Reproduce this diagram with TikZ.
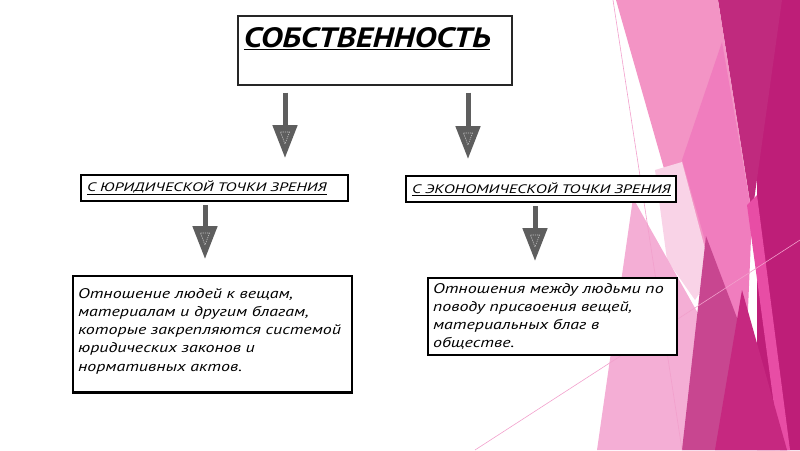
\documentclass[tikz,border=0pt]{standalone}
\usepackage{fontspec}
\setmainfont{PT Sans}
\newfontfamily\titlefont[FakeStretch=1.2]{PT Sans}
\newfontfamily\labelfont[FakeStretch=1.35]{PT Sans}
\newfontfamily\widefont[FakeStretch=1.28]{PT Sans}
\usetikzlibrary{arrows.meta,calc}

\definecolor{pkvlight}{HTML}{F9D3E7}
\definecolor{pklight}{HTML}{F4AED5}
\definecolor{pkmid}{HTML}{F394C5}
\definecolor{pkmed}{HTML}{F07DBE}
\definecolor{pkbright}{HTML}{E84DA5}
\definecolor{mgmauve}{HTML}{C84690}
\definecolor{mgdeep}{HTML}{C62880}
\definecolor{mgdark}{HTML}{C02A7E}
\definecolor{mgdarkest}{HTML}{BE1E78}
\definecolor{pkline}{HTML}{F2A0CC}
\definecolor{arrowgray}{HTML}{5E5E5E}

\tikzset{
  titlebox/.style={draw=black!85, line width=1.6pt, fill=white, anchor=north west,
    text width=262pt, align=left, inner xsep=6pt, inner ysep=12pt,
    font=\titlefont\fontsize{28}{30}\selectfont\bfseries\itshape},
  headbox/.style={draw=black, line width=2.2pt, fill=white, anchor=north west,
    align=left, inner xsep=6pt, inner ysep=4pt, minimum height=26pt,
    font=\labelfont\fontsize{12.3}{14}\selectfont\itshape},
  textbox/.style={draw=black, line width=2.2pt, fill=white, anchor=north west,
    align=left, inner xsep=5pt, inner ysep=5pt,
    font=\widefont\fontsize{14}{18.3}\selectfont\itshape},
  downarrow/.style={draw=arrowgray, line width=5pt, -{Triangle[width=24pt,length=33pt]}},
  headmark/.style={draw=black!25, dash pattern=on 1.2pt off 1pt, line width=0.6pt}
}

\begin{document}
\begin{tikzpicture}[x=1pt, y=-1pt]
  \useasboundingbox (0,0) rectangle (800,450);

  % background facets
  \fill[mgdarkest] (780,0) -- (800,0) -- (800,450) -- (757,450) -- (757,150) -- cycle;
  \fill[mgdark] (718,0) -- (782,0) -- (752,215) -- cycle;
  \fill[pkmid] (616,0) -- (718,0) -- (752,215) -- (740,330) -- (690,260) -- cycle;
  \fill[pkmed] (722,42) -- (752,215) -- (745,380) -- (682,160) -- cycle;
  \fill[pkvlight] (655,170) -- (682,162) -- (712,275) -- (695,300) -- (667,260) -- cycle;
  \fill[pklight] (633,198) -- (775,450) -- (597,450) -- cycle;
  \fill[mgmauve] (706,236) -- (787,450) -- (682,450) -- cycle;
  \fill[pkbright] (747,205) -- (757,195) -- (790,450) -- (780,450) -- cycle;
  \fill[mgdeep] (742,290) -- (787,450) -- (715,450) -- cycle;
  \draw[pkline, line width=0.6pt] (613,0) -- (682,450);
  \draw[pkline, line width=0.6pt] (475,450) -- (800,240);

  \node[titlebox, text depth=25pt] (title) at (237,15) {\underline{СОБСТВЕННОСТЬ}};

  \node[headbox, text width=255pt] (jur) at (80,174) {\underline{С ЮРИДИЧЕСКОЙ ТОЧКИ ЗРЕНИЯ}};
  \node[headbox, text width=258pt] (eco) at (405,175) {\underline{С ЭКОНОМИЧЕСКОЙ ТОЧКИ ЗРЕНИЯ}};

  \node[textbox, text width=269pt, inner ysep=12pt] (jurtxt) at (72,275) {Отношение людей к вещам,\\
    материалам и другим благам,\\
    которые закрепляются системой\\
    юридических законов и\\
    нормативных актов.\\[-9pt]\mbox{}};
  \node[textbox, text width=239pt] (ecotxt) at (427,277) {Отношения между людьми по\\
    поводу присвоения вещей,\\
    материальных благ в\\
    обществе.};

  \coordinate (x1) at (285,0);
  \coordinate (x2) at (468,0);
  \coordinate (x3) at (205,0);
  \coordinate (x4) at (535,0);

  \foreach \a/\b/\x/\s in {title/jur/x1/7, title/eco/x2/7, jur/jurtxt/x3/3, eco/ecotxt/x4/3} {
    \draw[downarrow, shorten <=\s pt, shorten >=16pt] (\a.south -| \x) -- (\b.north -| \x);
    \coordinate (tip) at ($(\b.north -| \x)+(0,-16)$);
    \draw[headmark] ($(tip)+(-4.5,-26)$) -- ($(tip)+(4.5,-26)$) -- ($(tip)+(0,-14)$) -- cycle;
  }
\end{tikzpicture}
\end{document}
